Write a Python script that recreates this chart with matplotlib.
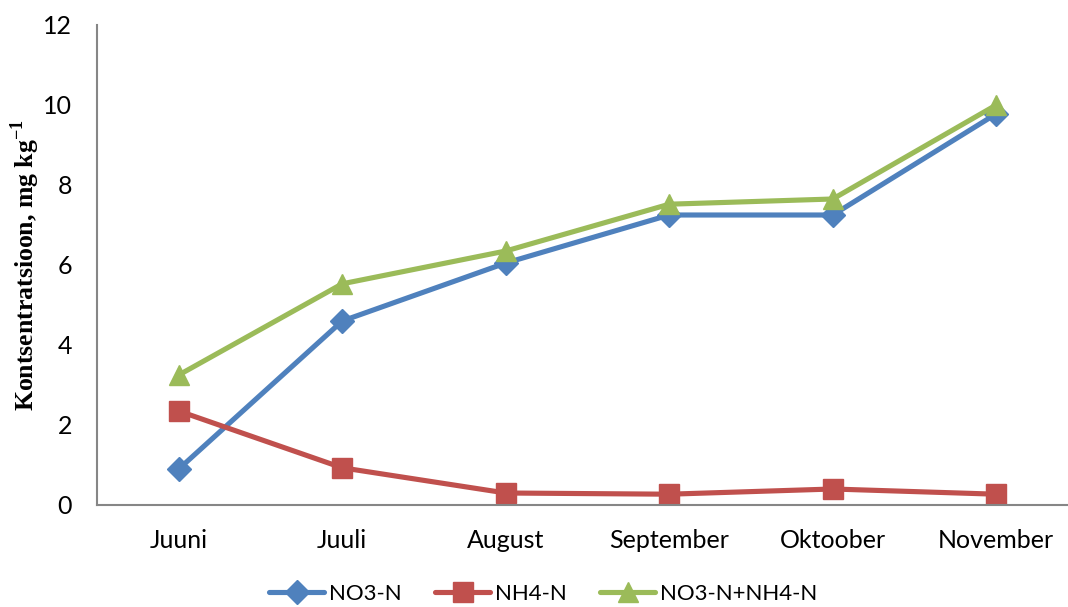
import matplotlib
matplotlib.use("Agg")
import matplotlib.pyplot as plt

months = ["Juuni", "Juuli", "August", "September", "Oktoober", "November"]
no3_n = [0.90, 4.60, 6.05, 7.25, 7.25, 9.78]
nh4_n = [2.35, 0.93, 0.30, 0.27, 0.40, 0.27]
total_n = [3.25, 5.53, 6.35, 7.52, 7.65, 10.0]
y_ticks = [0, 2, 4, 6, 8, 10, 12]

series = [
    ("NO3-N", no3_n, "#4F81BD", "D", 12.5),
    ("NH4-N", nh4_n, "#C0504D", "s", 14),
    ("NO3-N+NH4-N", total_n, "#9BBB59", "^", 14.5),
]

plt.rcParams["mathtext.fontset"] = "custom"
plt.rcParams["mathtext.rm"] = "Liberation Serif"
plt.rcParams["mathtext.bf"] = "Liberation Serif:bold"

fig = plt.figure(figsize=(10.68, 6.07), dpi=100)
ax = fig.add_axes([97 / 1068, 102 / 607, 981 / 1068, 480 / 607])

x = list(range(len(months)))
for name, vals, color, marker, ms in series:
    ax.plot(x, vals, color=color, lw=3.7, marker=marker, markersize=ms,
            markerfacecolor=color, markeredgecolor=color, label=name,
            solid_capstyle="round")

ax.set_xlim(-0.5, len(months) - 0.5)
ax.set_ylim(0, 12)
ax.set_yticks(y_ticks)
ax.set_yticklabels([str(t) for t in y_ticks], family="Lato", fontsize=18)
ax.set_xticks(x)
ax.set_xticklabels(months, family="Lato", fontsize=18)
ax.tick_params(axis="both", length=0)
ax.tick_params(axis="y", pad=18)
ax.tick_params(axis="x", pad=17)

for side in ("top", "right"):
    ax.spines[side].set_visible(False)
for side in ("left", "bottom"):
    ax.spines[side].set_color("#868686")
    ax.spines[side].set_linewidth(1.5)

fig.text(25 / 1068, 342 / 607, r"Kontsentratsioon, mg kg$^{\mathbf{-1}}$",
         family="Liberation Serif", fontweight="bold", fontsize=18.5,
         rotation=90, ha="center", va="center")

fig.legend(loc="center", bbox_to_anchor=(543 / 1068, 13 / 607), ncol=3,
           frameon=False, prop={"family": "Lato", "size": 16},
           handlelength=2.5, columnspacing=1.5, handletextpad=0.2)

fig.savefig("out.png", dpi=100)
